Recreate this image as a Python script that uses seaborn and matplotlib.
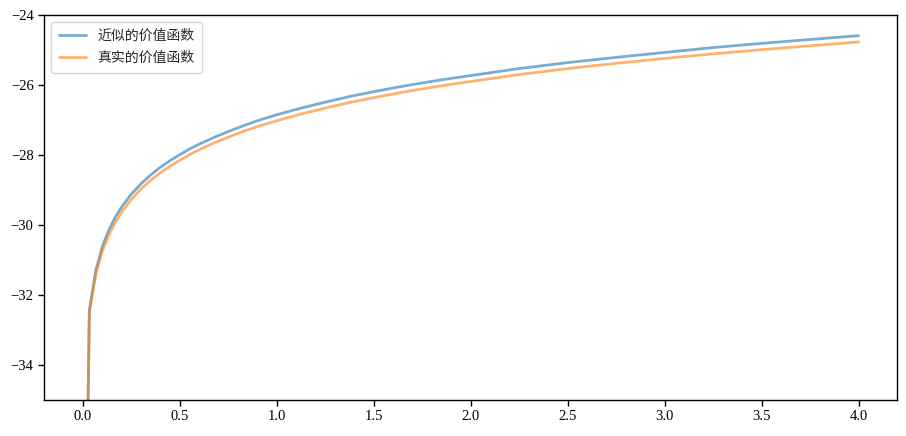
import pandas as pd
import seaborn as sns
import matplotlib.pyplot as plt

# values
x_grid = [0.00001, 0.0336, 0.0672, 0.1008, 0.1345, 0.168, 0.2017, 0.25, 0.3, 0.35,
          0.4, 0.45, 0.5, 0.55, 0.6, 0.675, 0.75, 0.825, 0.9, 1.0,
          1.125, 1.25, 1.375, 1.5, 1.625, 1.75, 1.875, 2.0, 2.25, 2.5,
          2.75, 3.0, 3.25, 3.5, 3.75, 4.0]
v_true = [-45.71, -32.53, -31.40, -30.74, -30.28, -29.92, -29.62, -29.27, -28.97, -28.72,
          -28.51, -28.32, -28.15, -27.99, -27.85, -27.66, -27.49, -27.33, -27.19, -27.02,
          -26.83, -26.66, -26.50, -26.36, -26.23, -26.11, -26.00, -25.90, -25.70, -25.53,
          -25.38, -25.24, -25.11, -24.99, -24.88, -24.77]
v_approx = [-45.62, -32.43, -31.29, -30.61, -30.14, -29.77, -29.47, -29.12, -28.82, -28.57,
            -28.35, -28.16, -27.99, -27.83, -27.69, -27.50, -27.33, -27.17, -27.02, -26.85,
            -26.66, -26.49, -26.33, -26.19, -26.06, -25.94, -25.83, -25.73, -25.53, -25.36,
            -25.21, -25.07, -24.93, -24.81, -24.70, -24.59]
labels = ['近似的价值函数', '真实的价值函数']

df = pd.concat([
    pd.DataFrame({'x': x_grid, 'v': v_approx, 'name': labels[0]}),
    pd.DataFrame({'x': x_grid, 'v': v_true, 'name': labels[1]}),
])

sns.set_style('white')
plt.rcParams['font.family'] = ['Liberation Serif', 'Noto Sans CJK SC']
plt.rcParams['axes.unicode_minus'] = True

fig = plt.figure(figsize=(9.06, 4.36), dpi=100)
ax = fig.add_axes([0.0486, 0.0826, 0.942, 0.883])
sns.lineplot(data=df, x='x', y='v', hue='name', palette=['#1f77b4', '#ff7f0e'],
             linewidth=2, alpha=0.6, ax=ax, sort=False)

ax.set_ylim(-35, -24)
ax.set_xlabel('')
ax.set_ylabel('')
for s in ax.spines.values():
    s.set_color('black')
    s.set_linewidth(1)
ax.tick_params(axis='both', which='major', direction='out', length=4, width=1,
               colors='black', labelsize=10.5, bottom=True, left=True)
ax.legend(loc='upper left', title=None, fontsize=10, labelspacing=0.65, borderpad=0.55)

fig.savefig('out.png', dpi=100)
